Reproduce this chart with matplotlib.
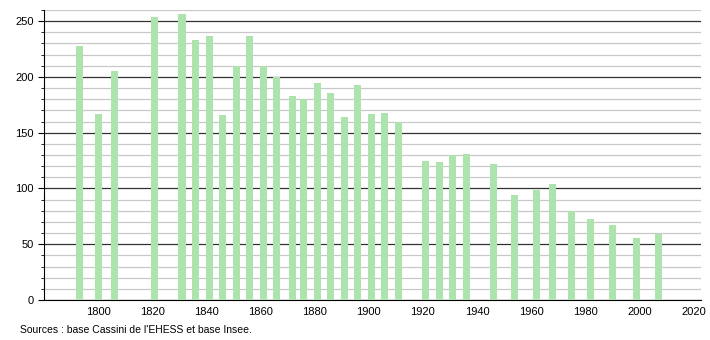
import matplotlib
matplotlib.use("Agg")
import matplotlib.pyplot as plt
from matplotlib.ticker import MultipleLocator

plt.rcParams["font.family"] = ["Liberation Sans", "DejaVu Sans"]

# Population by census year
years = [1793, 1800, 1806, 1821, 1831, 1836, 1841, 1846, 1851, 1856, 1861, 1866,
         1872, 1876, 1881, 1886, 1891, 1896, 1901, 1906, 1911, 1921, 1926, 1931,
         1936, 1946, 1954, 1962, 1968, 1975, 1982, 1990, 1999, 2007]
population = [228, 167, 205, 254, 256, 233, 237, 166, 210, 237, 210, 200,
              183, 180, 195, 186, 164, 193, 167, 168, 160, 125, 124, 130,
              131, 122, 94, 99, 104, 80, 73, 67, 56, 59]

fig = plt.figure(figsize=(7.1, 3.4), dpi=100)
ax = fig.add_axes([44 / 710, 40 / 340, 657 / 710, 290 / 340])

ax.set_xlim(1780, 2022.8)
ax.set_ylim(0, 260)

ax.yaxis.set_major_locator(MultipleLocator(50))
ax.yaxis.set_minor_locator(MultipleLocator(10))
ax.set_xticks(range(1800, 2021, 20))

ax.grid(axis="y", which="minor", color="#c8c8c8", linewidth=0.9)
ax.grid(axis="y", which="major", color="#333333", linewidth=0.9)
ax.set_axisbelow(True)

ax.bar(years, population, width=2.6, color="#ade3ad", zorder=3)

for side in ["top", "right"]:
    ax.spines[side].set_visible(False)
ax.spines["left"].set_color("black")
ax.spines["bottom"].set_color("black")

ax.tick_params(axis="y", which="major", length=4, labelsize=8)
ax.tick_params(axis="y", which="minor", length=2)
ax.tick_params(axis="x", length=0, labelsize=8, pad=5)

fig.text(20 / 710, 10 / 340, "Sources : base Cassini de l'EHESS et base Insee.",
         fontsize=7.5, va="center", ha="left")

fig.savefig("out.png", dpi=100)
